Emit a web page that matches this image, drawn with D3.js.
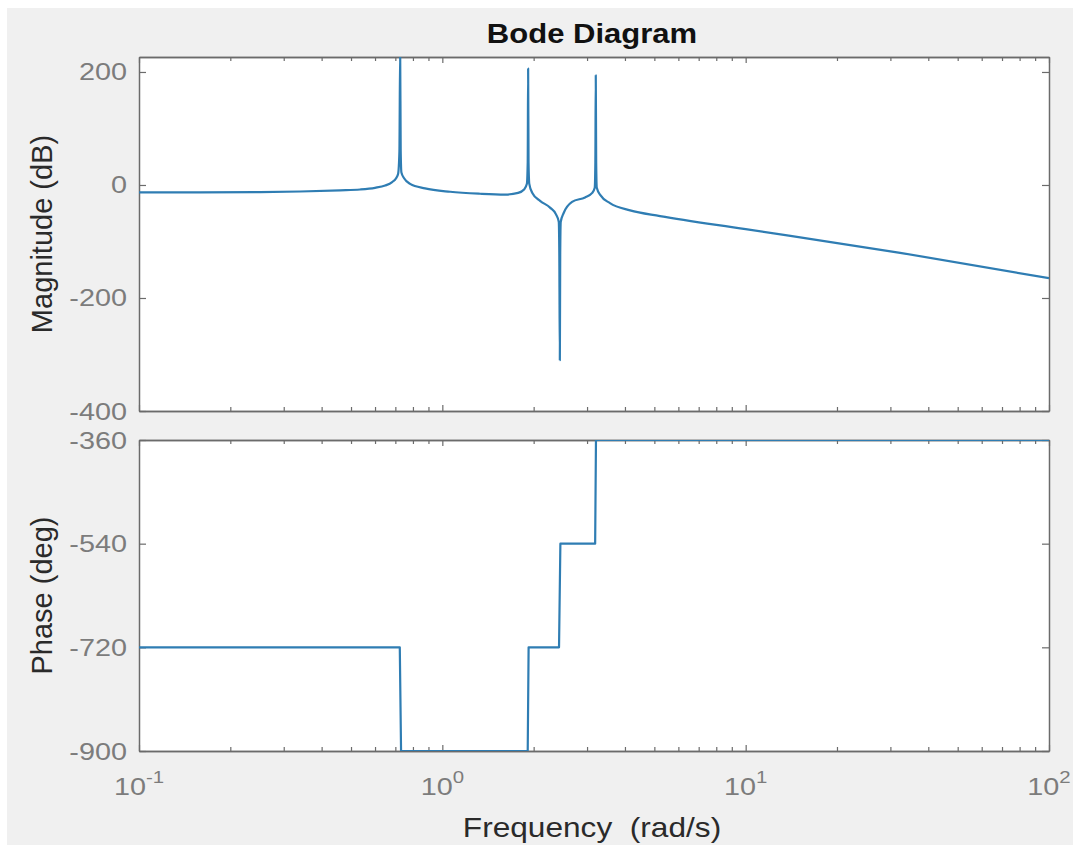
<!DOCTYPE html>
<html>
<head>
<meta charset="utf-8">
<script src="https://cdn.jsdelivr.net/npm/d3@7"></script>
<style>
  body { margin: 0; background: #fff; }
  text { font-family: "Liberation Sans", Arial, Helvetica, sans-serif; }
</style>
</head>
<body>
<div id="chart"></div>
<script>
// magnitude response (rad/s, dB)
var magFreq = [0.1, 0.159, 0.251, 0.340, 0.460, 0.536, 0.600, 0.648, 0.683, 0.704, 0.715, 0.722, 0.726, 0.729, 0.733, 0.748,
  0.783, 0.877, 1.061, 1.331, 1.610, 1.778, 1.86, 1.90, 1.912, 1.918, 1.924, 1.935, 1.98, 2.10, 2.265, 2.37, 2.42, 2.43,
  2.44, 2.447, 2.457, 2.51, 2.677, 2.954, 3.12, 3.18, 3.195, 3.205, 3.215, 3.23, 3.32, 3.57, 4.16, 5.22, 10, 32.3, 100];
var magDb = [-13, -13, -12.5, -11.5, -9.5, -8, -5, -1, 5, 12, 20, 60, 240, 60, 22, 12,
  2, -6, -12, -15.5, -17, -14, -8, 2, 40, 206, 40, 2, -14, -28, -40, -52, -65, -120,
  -310, -120, -65, -50, -30, -22, -14, -5, 40, 194, 40, -5, -18, -32, -45, -55, -78, -120, -165];

// phase response (rad/s, deg)
var phaseFreq = [0.1, 0.724, 0.731, 1.912, 1.925, 2.425, 2.45, 3.19, 3.21, 100];
var phaseDeg = [-720, -720, -900, -900, -720, -720, -540, -540, -360, -360];

var magTicks = [200, 0, -200, -400];
var phaseTicks = [-360, -540, -720, -900];
var decadeTicks = [0.1, 1, 10, 100];
var decadeExp = ["-1", "0", "1", "2"];

var width = 1081, height = 845;
var left = 139, right = 1049;
var magTop = 57, magBottom = 411;
var phTop = 440, phBottom = 751;

var svg = d3.select("#chart").append("svg")
  .attr("width", width)
  .attr("height", height);

svg.append("rect")
  .attr("x", 7).attr("y", 8)
  .attr("width", 1066).attr("height", 837)
  .attr("fill", "#f0f0f0");

var x = d3.scaleLog().domain([0.1, 100]).range([left, right]);
var yMag = d3.scaleLinear().domain([-400, 226.5]).range([magBottom, magTop]);
var yPh = d3.scaleLinear().domain([-900, -360]).range([phBottom, phTop]);

var minorTicks = [];
[0.1, 1, 10].forEach(function(d) {
  for (var k = 2; k <= 9; k++) minorTicks.push(d * k);
});

var axisColor = "#6b6b6b";
var labelColor = "#7c7c7c";
var lineColor = "#2f7db3";

function panel(y, top, bottom, yTicks, xs, ys, id, curve) {
  svg.append("rect")
    .attr("x", left).attr("y", top)
    .attr("width", right - left).attr("height", bottom - top)
    .attr("fill", "#fff");

  svg.append("clipPath").attr("id", id)
    .append("rect")
    .attr("x", left).attr("y", top)
    .attr("width", right - left).attr("height", bottom - top);

  // ticks point inward on all four sides
  var axes = [
    { a: d3.axisBottom(x).tickValues(decadeTicks).tickSize(-6), t: "translate(0," + bottom + ")" },
    { a: d3.axisBottom(x).tickValues(minorTicks).tickSize(-4), t: "translate(0," + bottom + ")" },
    { a: d3.axisTop(x).tickValues(decadeTicks).tickSize(-6), t: "translate(0," + top + ")" },
    { a: d3.axisTop(x).tickValues(minorTicks).tickSize(-4), t: "translate(0," + top + ")" },
    { a: d3.axisLeft(y).tickValues(yTicks).tickSize(-7), t: "translate(" + left + ",0)" },
    { a: d3.axisRight(y).tickValues(yTicks).tickSize(-7), t: "translate(" + right + ",0)" }
  ];
  axes.forEach(function(o) {
    var g = svg.append("g")
      .attr("transform", o.t)
      .call(o.a.tickFormat("").tickSizeOuter(0));
    g.selectAll("line").attr("stroke", axisColor).attr("stroke-width", 1.2);
    g.select(".domain").attr("stroke", axisColor).attr("stroke-width", 1.5);
  });

  var line = d3.line()
    .curve(curve)
    .x(function(d, i) { return x(xs[i]); })
    .y(function(d, i) { return y(ys[i]); });

  svg.append("path")
    .datum(xs)
    .attr("clip-path", "url(#" + id + ")")
    .attr("d", line)
    .attr("fill", "none")
    .attr("stroke", lineColor)
    .attr("stroke-width", 2.2)
    .attr("stroke-linejoin", "round");

  yTicks.forEach(function(v) {
    svg.append("text")
      .attr("transform", "translate(127," + (y(v) + 8.5) + ") scale(1.2,1)")
      .attr("text-anchor", "end")
      .attr("font-size", 24)
      .attr("fill", labelColor)
      .text(v);
  });
}

panel(yMag, magTop, magBottom, magTicks, magFreq, magDb, "clipMag", d3.curveMonotoneX);
panel(yPh, phTop, phBottom, phaseTicks, phaseFreq, phaseDeg, "clipPh", d3.curveLinear);

// decade labels with superscripts
decadeTicks.forEach(function(v, i) {
  var t = svg.append("text")
    .attr("transform", "translate(" + x(v) + ",795) scale(1.2,1)")
    .attr("text-anchor", "middle")
    .attr("font-size", 24)
    .attr("fill", labelColor);
  t.append("tspan").text("10");
  t.append("tspan").attr("dy", -12).attr("font-size", 17).text(decadeExp[i]);
});

svg.append("text")
  .attr("transform", "translate(592,43) scale(1.15,1)")
  .attr("text-anchor", "middle")
  .attr("font-size", 27)
  .attr("font-weight", "bold")
  .attr("fill", "#111")
  .text("Bode Diagram");

svg.append("text")
  .attr("transform", "translate(592,837) scale(1.13,1)")
  .attr("text-anchor", "middle")
  .attr("font-size", 28)
  .attr("fill", "#2a2a2a")
  .text("Frequency\u00a0 (rad/s)");

svg.append("text")
  .attr("transform", "translate(52," + ((magTop + magBottom) / 2) + ") rotate(-90)")
  .attr("text-anchor", "middle")
  .attr("font-size", 29)
  .attr("fill", "#2a2a2a")
  .text("Magnitude (dB)");

svg.append("text")
  .attr("transform", "translate(52," + ((phTop + phBottom) / 2) + ") rotate(-90)")
  .attr("text-anchor", "middle")
  .attr("font-size", 29)
  .attr("fill", "#2a2a2a")
  .text("Phase (deg)");
</script>
</body>
</html>
